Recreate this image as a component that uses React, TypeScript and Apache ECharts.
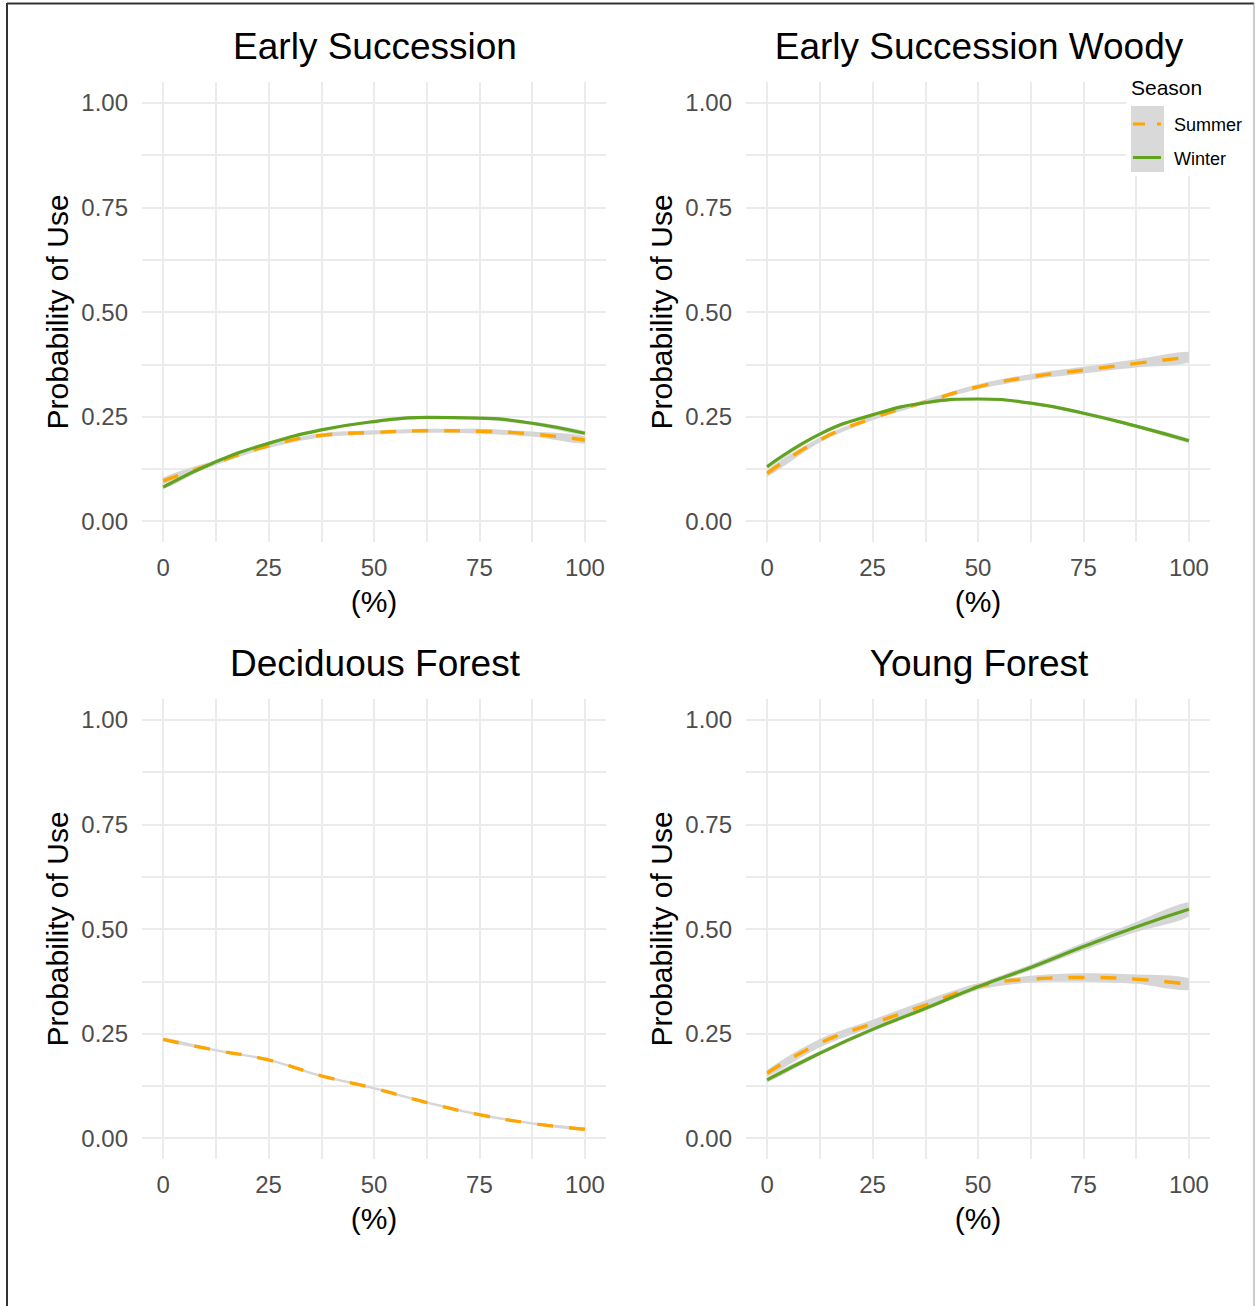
import React, { useEffect, useRef } from "react";
import * as echarts from "echarts";

// ---------- data ----------
const xValues = [0, 12.5, 25, 37.5, 50, 62.5, 75, 87.5, 100];
const xGridValues = [0, 12.5, 25, 37.5, 50, 62.5, 75, 87.5, 100];
const xTickLabels = [0, 25, 50, 75, 100];
const yGridValues = [0, 0.125, 0.25, 0.375, 0.5, 0.625, 0.75, 0.875, 1];
const yTickLabels = [0, 0.25, 0.5, 0.75, 1];

const panelTitles = ["Early Succession", "Early Succession Woody", "Deciduous Forest", "Young Forest"];
const seasonNames = ["Summer", "Winter"];

// Early Succession
const esSummer = [0.096, 0.14, 0.18, 0.205, 0.212, 0.216, 0.215, 0.208, 0.194];
const esSummerCI = [0.008, 0.006, 0.005, 0.005, 0.005, 0.005, 0.006, 0.006, 0.009];
const esWinter = [0.081, 0.142, 0.186, 0.218, 0.238, 0.248, 0.246, 0.234, 0.21];
const esWinterCI = [0.005, 0.004, 0.003, 0.003, 0.003, 0.003, 0.003, 0.004, 0.005];

// Early Succession Woody
const eswSummer = [0.114, 0.194, 0.246, 0.285, 0.321, 0.345, 0.361, 0.377, 0.392];
const eswSummerCI = [0.008, 0.006, 0.005, 0.005, 0.006, 0.007, 0.008, 0.01, 0.013];
const eswWinter = [0.13, 0.208, 0.254, 0.283, 0.292, 0.282, 0.258, 0.227, 0.192];
const eswWinterCI = [0.005, 0.004, 0.003, 0.003, 0.003, 0.003, 0.004, 0.004, 0.005];

// Deciduous Forest
const dfSummer = [0.236, 0.21, 0.187, 0.149, 0.119, 0.085, 0.056, 0.035, 0.021];
const dfSummerCI = [0.004, 0.003, 0.003, 0.003, 0.003, 0.003, 0.003, 0.003, 0.003];

// Young Forest
const yfSummer = [0.155, 0.227, 0.274, 0.318, 0.362, 0.38, 0.384, 0.38, 0.368];
const yfSummerCI = [0.008, 0.01, 0.009, 0.011, 0.008, 0.008, 0.01, 0.011, 0.014];
const yfWinter = [0.139, 0.203, 0.26, 0.31, 0.362, 0.408, 0.458, 0.505, 0.547];
const yfWinterCI = [0.006, 0.005, 0.005, 0.005, 0.006, 0.007, 0.009, 0.012, 0.017];

// ---------- styles ----------
const FONT = "'Liberation Sans', Arial, sans-serif";
const SUMMER_COLOR = "#FFA500";
const WINTER_COLOR = "#5FA31F";
const RIBBON_COLOR = "#D6D6D6";
const GRID_COLOR = "#EBEBEB";

const grids = [
  { left: 142, top: 82, width: 464, height: 460 },
  { left: 746, top: 82, width: 464, height: 460 },
  { left: 142, top: 699, width: 464, height: 460 },
  { left: 746, top: 699, width: 464, height: 460 },
];

const panels = [
  { summer: esSummer, summerCI: esSummerCI, winter: esWinter, winterCI: esWinterCI },
  { summer: eswSummer, summerCI: eswSummerCI, winter: eswWinter, winterCI: eswWinterCI },
  { summer: dfSummer, summerCI: dfSummerCI, winter: null, winterCI: null },
  { summer: yfSummer, summerCI: yfSummerCI, winter: yfWinter, winterCI: yfWinterCI },
];

function ribbon(idx: number, vals: number[], half: number[]) {
  const data = xValues.map((x, i) => [x, vals[i] - half[i], vals[i] + half[i]]);
  return {
    type: "custom",
    xAxisIndex: idx,
    yAxisIndex: idx,
    silent: true,
    z: 1,
    data,
    encode: { x: 0, y: [1, 2] },
    renderItem: (params: any, api: any) => {
      if (params.dataIndex !== 0) return null;
      const upper = data.map((d) => api.coord([d[0], d[2]]));
      const lower = data.map((d) => api.coord([d[0], d[1]])).reverse();
      const pts = [...upper, ...lower];
      let minX = Infinity, minY = Infinity, maxX = -Infinity, maxY = -Infinity;
      pts.forEach((p: number[]) => {
        minX = Math.min(minX, p[0]);
        maxX = Math.max(maxX, p[0]);
        minY = Math.min(minY, p[1]);
        maxY = Math.max(maxY, p[1]);
      });
      return {
        type: "polygon",
        shape: { points: pts, smooth: 0.3, smoothConstraint: [[minX, minY], [maxX, maxY]] },
        style: { fill: RIBBON_COLOR, stroke: "none" },
      };
    },
  };
}

function line(idx: number, vals: number[], color: string, dashed: boolean, z: number) {
  return {
    type: "line",
    xAxisIndex: idx,
    yAxisIndex: idx,
    data: xValues.map((x, i) => [x, vals[i]]),
    symbol: "none",
    smooth: true,
    silent: true,
    z,
    lineStyle: { color, width: dashed ? 3.4 : 3.2, type: dashed ? [16, 16] : "solid", cap: "butt" },
  };
}

export default function App() {
  const ref = useRef<HTMLDivElement>(null);

  useEffect(() => {
    if (!ref.current) return;
    const chart = echarts.init(ref.current, null, { renderer: "svg" });

    const series: any[] = [];
    panels.forEach((p, i) => {
      series.push(ribbon(i, p.summer, p.summerCI));
      if (p.winter) series.push(ribbon(i, p.winter, p.winterCI as number[]));
    });
    panels.forEach((p, i) => {
      series.push(line(i, p.summer, SUMMER_COLOR, true, 3));
      if (p.winter) series.push(line(i, p.winter, WINTER_COLOR, false, 4));
    });

    const xAxis = grids.map((_, i) => ({
      gridIndex: i,
      type: "value",
      min: -5,
      max: 105,
      axisLine: { show: false },
      axisTick: { show: false, customValues: xGridValues },
      axisLabel: {
        customValues: xTickLabels,
        color: "#4D4D4D",
        fontSize: 24,
        fontFamily: FONT,
        margin: 13,
      },
      splitLine: { show: true, lineStyle: { color: GRID_COLOR, width: 2 } },
      name: "(%)",
      nameLocation: "middle",
      nameGap: 44,
      nameTextStyle: { color: "#000", fontSize: 30, fontFamily: FONT },
    }));

    const yAxis = grids.map((_, i) => ({
      gridIndex: i,
      type: "value",
      min: -0.05,
      max: 1.05,
      axisLine: { show: false },
      axisTick: { show: false, customValues: yGridValues },
      axisLabel: {
        customValues: yTickLabels,
        color: "#4D4D4D",
        fontSize: 24,
        fontFamily: FONT,
        margin: 14,
        formatter: (v: number) => v.toFixed(2),
      },
      splitLine: { show: true, lineStyle: { color: GRID_COLOR, width: 2 } },
      name: "Probability of Use",
      nameLocation: "middle",
      nameGap: 70,
      nameTextStyle: { color: "#000", fontSize: 30, fontFamily: FONT },
    }));

    const titleCenters = [
      [375, 46],
      [979, 46],
      [375, 663],
      [979, 663],
    ];

    const graphic: any[] = [
      // frame
      { type: "line", z: 100, shape: { x1: 7, y1: 3.5, x2: 1254, y2: 3.5 }, style: { stroke: "#333", lineWidth: 2 }, silent: true },
      { type: "line", z: 100, shape: { x1: 7, y1: 3, x2: 7, y2: 1306 }, style: { stroke: "#333", lineWidth: 2 }, silent: true },
      { type: "line", z: 100, shape: { x1: 1254, y1: 3, x2: 1254, y2: 1306 }, style: { stroke: "#999", lineWidth: 1 }, silent: true },
      // titles
      ...panelTitles.map((t, i) => ({
        type: "text",
        z: 100,
        x: titleCenters[i][0],
        y: titleCenters[i][1],
        silent: true,
        style: {
          text: t,
          fill: "#000",
          font: `37px ${FONT}`,
          align: "center",
          verticalAlign: "middle",
        },
      })),
      // legend
      {
        type: "rect",
        z: 100,
        shape: { x: 1126, y: 70, width: 124, height: 106 },
        style: { fill: "#ffffff" },
        silent: true,
      },
      {
        type: "text",
        z: 101,
        x: 1131,
        y: 87,
        silent: true,
        style: { text: "Season", fill: "#000", font: `21px ${FONT}`, align: "left", verticalAlign: "middle" },
      },
      { type: "rect", z: 101, shape: { x: 1131, y: 106, width: 33, height: 66 }, style: { fill: "#D9D9D9" }, silent: true },
      {
        type: "line",
        z: 102,
        shape: { x1: 1133, y1: 124, x2: 1161, y2: 124 },
        style: { stroke: SUMMER_COLOR, lineWidth: 3, lineDash: [12, 12] },
        silent: true,
      },
      {
        type: "line",
        z: 102,
        shape: { x1: 1133, y1: 157.5, x2: 1161, y2: 157.5 },
        style: { stroke: WINTER_COLOR, lineWidth: 3 },
        silent: true,
      },
      {
        type: "text",
        z: 102,
        x: 1174,
        y: 125,
        silent: true,
        style: { text: seasonNames[0], fill: "#000", font: `18px ${FONT}`, align: "left", verticalAlign: "middle" },
      },
      {
        type: "text",
        z: 102,
        x: 1174,
        y: 159,
        silent: true,
        style: { text: seasonNames[1], fill: "#000", font: `18px ${FONT}`, align: "left", verticalAlign: "middle" },
      },
    ];

    chart.setOption({
      animation: false,
      backgroundColor: "#ffffff",
      grid: grids.map((g) => ({ ...g, containLabel: false })),
      xAxis,
      yAxis,
      series,
      graphic,
    });

    return () => chart.dispose();
  }, []);

  return (
    <div
      ref={ref}
      style={{ position: "absolute", left: 0, top: 0, width: 1255, height: 1306, background: "#fff" }}
    />
  );
}
